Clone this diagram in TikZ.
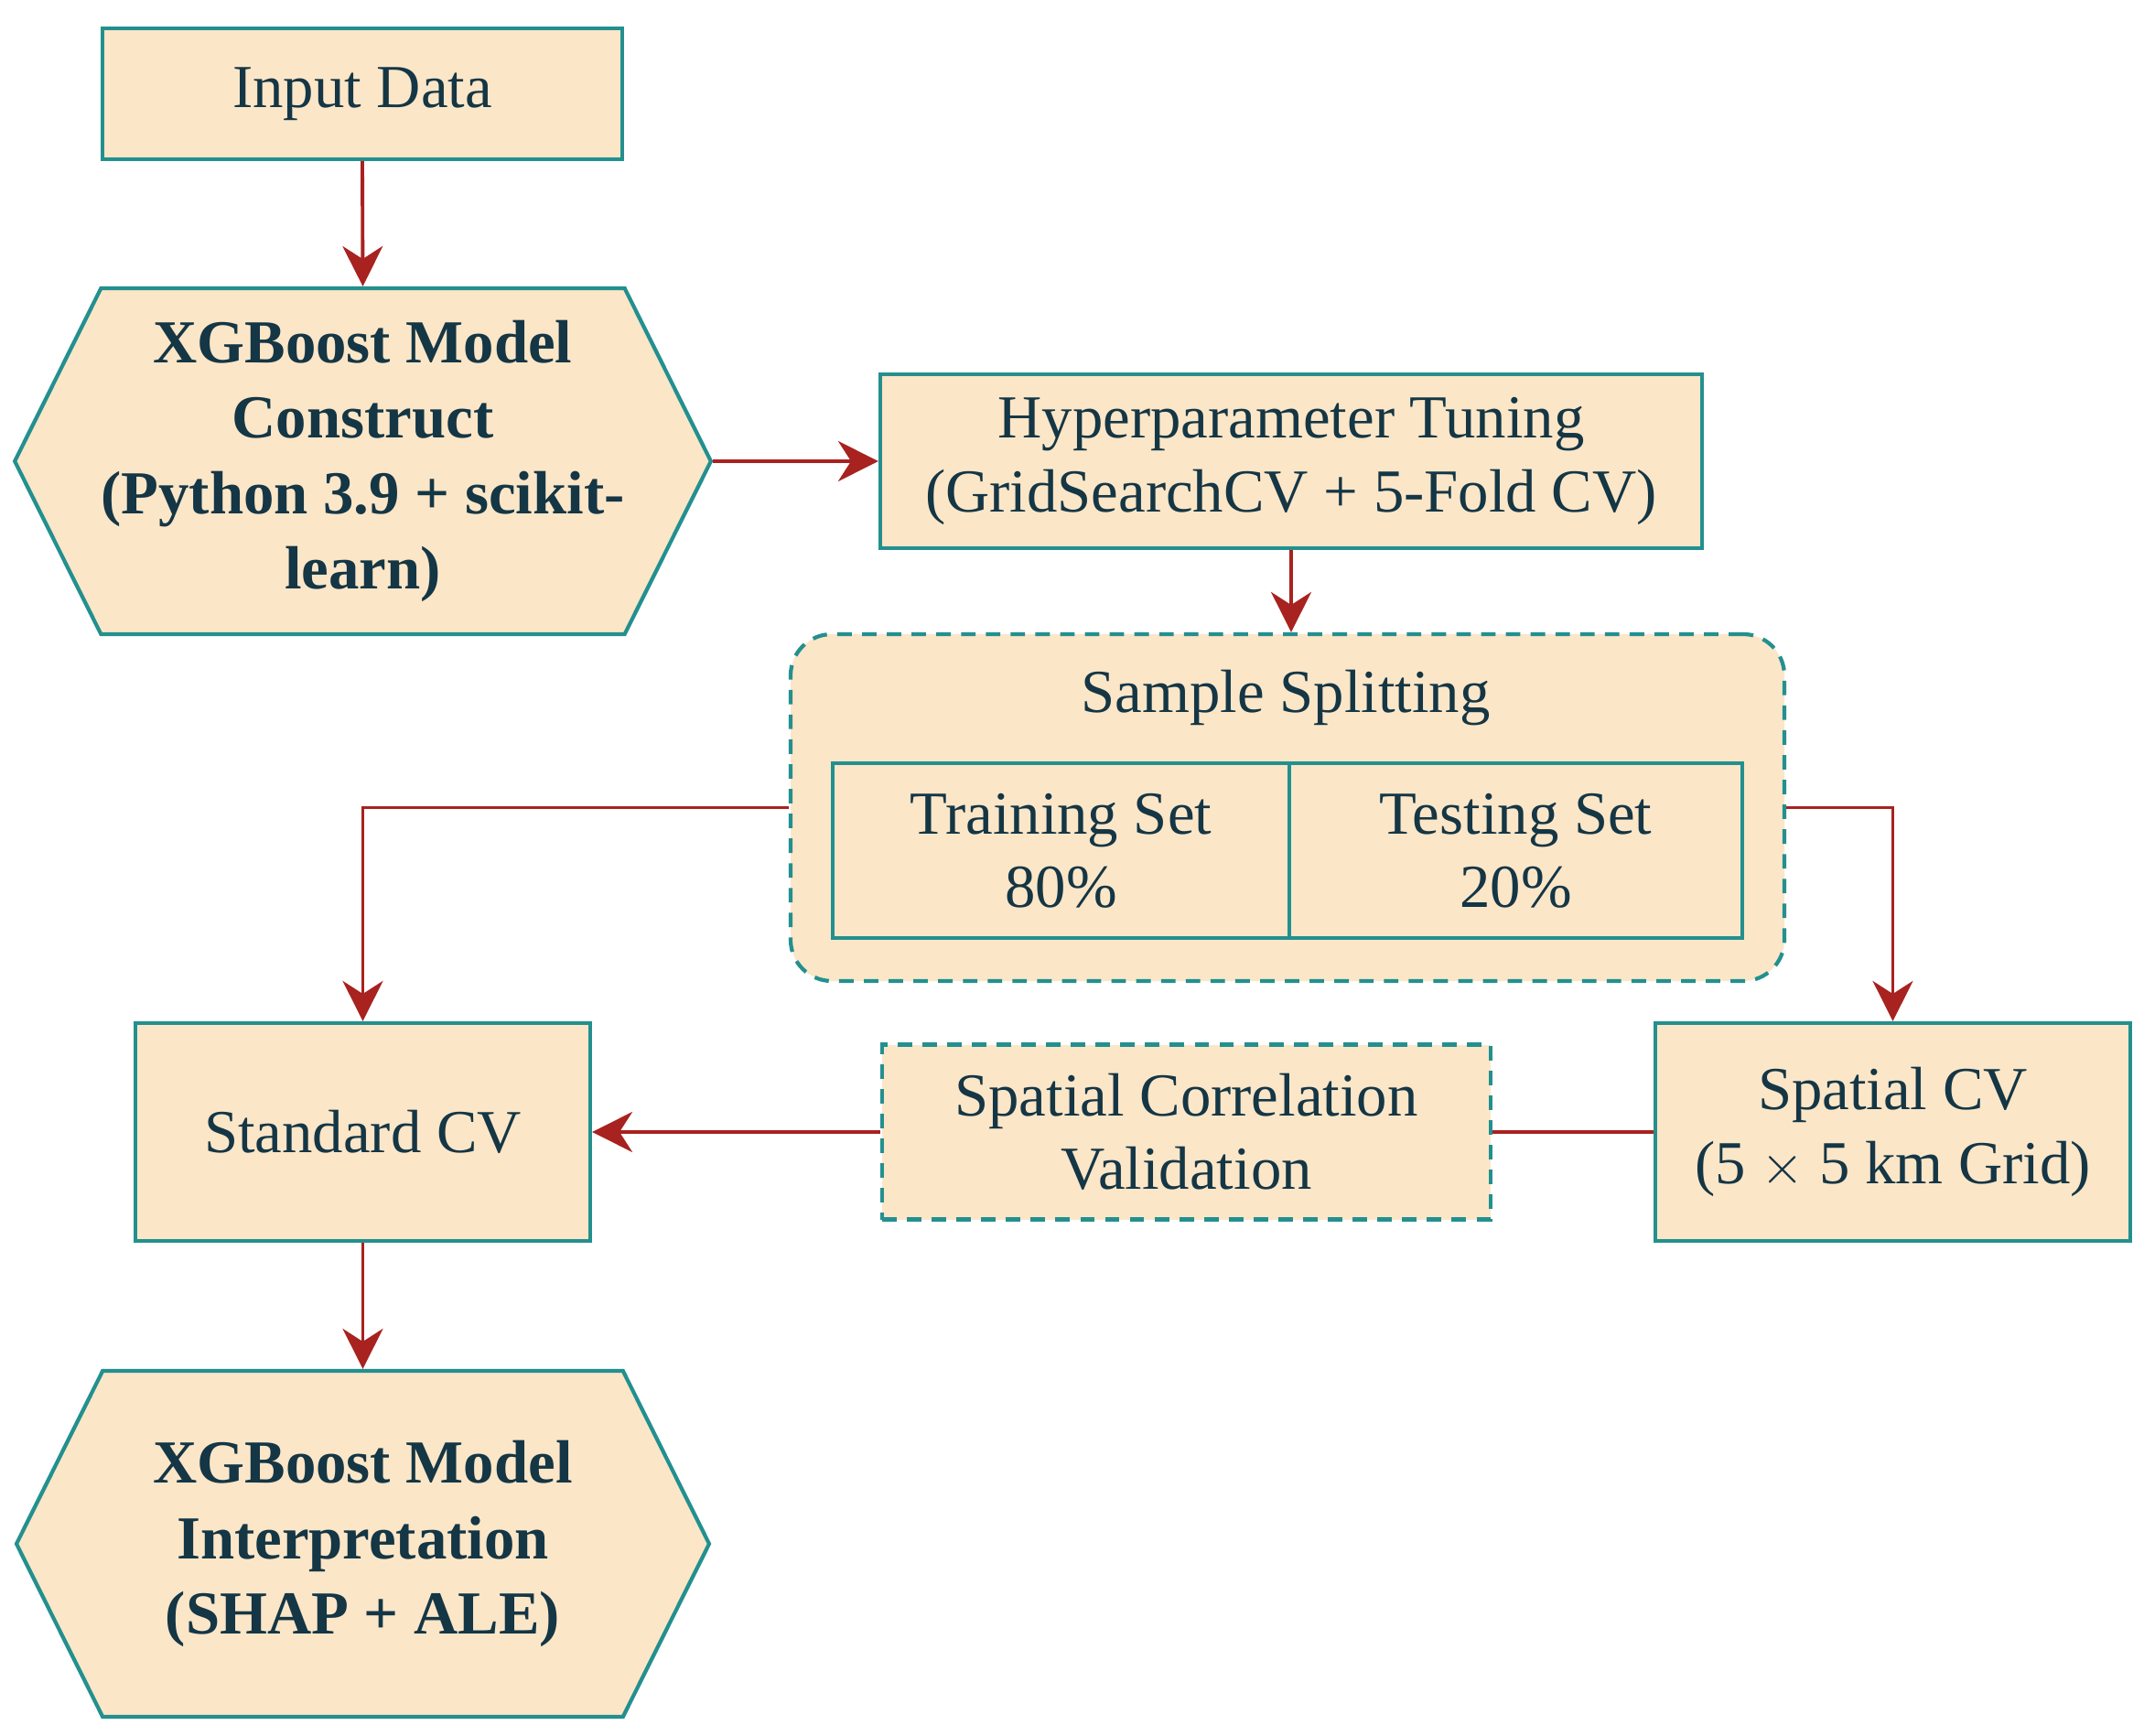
\documentclass[tikz,border=0pt]{standalone}
\usepackage{fontspec}
\setmainfont{Liberation Serif}
\usetikzlibrary{shapes.symbols,arrows.meta}
\begin{document}
\begin{tikzpicture}
\definecolor{boxfill}{HTML}{FCE6C8}
\definecolor{boxline}{HTML}{23908F}
\definecolor{arrowred}{HTML}{A82220}
\definecolor{textcol}{HTML}{143645}
\tikzset{
  box/.style={draw=boxline, fill=boxfill, line width=1.2pt, text=textcol, align=center, inner sep=0pt, font=\fontsize{19}{22.8}\selectfont},
  hexbox/.style={box, shape=signal, signal to=east and west, signal pointer angle=127, minimum width=7.57cm, minimum height=3.78cm, font=\fontsize{19}{23.5}\selectfont\bfseries},
  dashbox/.style={box, dash pattern=on 4.5pt off 3.2pt},
  link/.style={draw=arrowred, line width=1.1pt, -{Stealth[length=12.5pt, width=12.5pt, inset=4pt]}},
  plainlink/.style={draw=arrowred, line width=1.1pt}
}
\useasboundingbox (0,0) rectangle (23.43,-18.97);
\node[box, minimum width=5.68cm, minimum height=1.43cm] (input) at (3.96,-1.025) {Input Data};
\node[hexbox] (construct) at (3.965,-5.04) {XGBoost Model\\Construct\\(Python 3.9 + scikit-\\learn)};
\node[box, minimum width=8.98cm, minimum height=1.9cm] (hyper) at (14.11,-5.04) {Hyperparameter Tuning\\(GridSearchCV + 5-Fold CV)};
\node[dashbox, rounded corners=0.45cm, minimum width=10.86cm, minimum height=3.79cm] (sample) at (14.07,-8.825) {};
\node[text=textcol, font=\fontsize{19}{22.8}\selectfont] (sampletitle) at (14.05,-7.63) {Sample Splitting};
\node[box, minimum width=4.99cm, minimum height=1.91cm] (train) at (11.595,-9.295) {Training Set\\80\%};
\node[box, minimum width=4.95cm, minimum height=1.91cm] (test) at (16.565,-9.295) {Testing Set\\20\%};
\node[box, minimum width=4.97cm, minimum height=2.38cm] (stdcv) at (3.965,-12.37) {Standard CV};
\node[dashbox, minimum width=6.65cm, minimum height=1.91cm] (spatcorr) at (12.965,-12.37) {Spatial Correlation\\Validation};
\node[box, minimum width=5.19cm, minimum height=2.38cm] (spatial) at (20.685,-12.37) {Spatial CV\\(5 $\times$ 5 km Grid)};
\node[hexbox] (interp) at (3.965,-16.87) {XGBoost Model\\Interpretation\\(SHAP + ALE)};
\draw[link] (input.south) -- (construct.north);
\draw[link] (construct.east) -- (hyper.west);
\draw[link] (hyper.south) -- (hyper.south |- sample.north);
\draw[link] (sample.west) -| (stdcv.north);
\draw[link] (sample.east) -| (spatial.north);
\draw[plainlink] (spatial.west) -- (spatcorr.east);
\draw[link] (spatcorr.west) -- (stdcv.east);
\draw[link] (stdcv.south) -- (interp.north);
\end{tikzpicture}
\end{document}
